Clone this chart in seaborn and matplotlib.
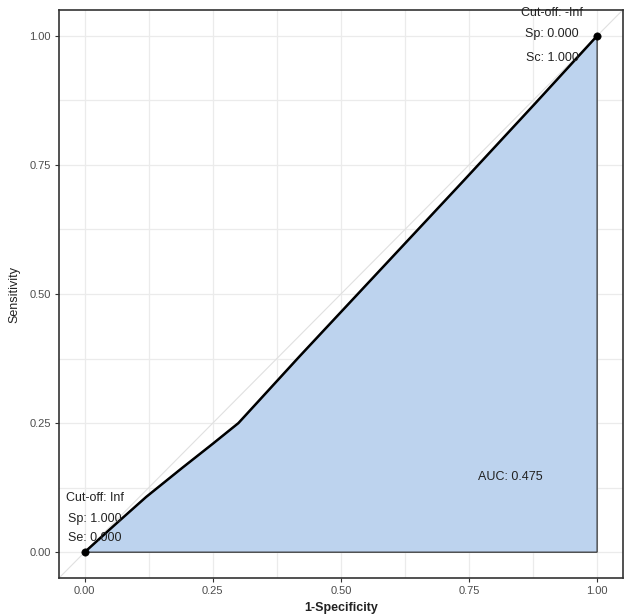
import matplotlib
matplotlib.use("Agg")
import matplotlib.pyplot as plt
import seaborn as sns
import pandas as pd
import numpy as np

# Data
fpr = [0.0, 0.06, 0.12, 0.19, 0.25, 0.30, 0.42, 0.58, 0.74, 0.88, 1.0]
tpr = [0.0, 0.054, 0.107, 0.163, 0.21, 0.25, 0.38, 0.55, 0.72, 0.87, 1.0]
end_fpr = [0.0, 1.0]
end_tpr = [0.0, 1.0]
ticks = [0.0, 0.25, 0.5, 0.75, 1.0]
tick_labels = ["0.00", "0.25", "0.50", "0.75", "1.00"]
auc_text = "AUC: 0.475"
top_labels = ["Cut-off: -Inf", "Sp: 0.000", "Sc: 1.000"]
bottom_labels = ["Cut-off: Inf", "Sp: 1.000", "Se: 0.000"]

sns.set_theme(style="white")
plt.rcParams['font.family'] = ['Liberation Sans', 'DejaVu Sans']

df = pd.DataFrame({"fpr": fpr, "tpr": tpr})
ends = pd.DataFrame({"fpr": end_fpr, "tpr": end_tpr})

fig = plt.figure(figsize=(6.24, 6.14), dpi=100)
ax = fig.add_axes([0.0946, 0.0586, 0.9034, 0.9251])

# grid
for v in np.arange(0, 1.01, 0.125):
    ax.axvline(v, color="#EBEBEB", lw=0.9, zorder=0)
    ax.axhline(v, color="#EBEBEB", lw=0.9, zorder=0)

# diagonal
ax.plot([-0.05, 1.05], [-0.05, 1.05], color="#E0E0E0", lw=0.8, zorder=1)

# filled area
xs = fpr + [1.0, 0.0]
ys = tpr + [0.0, 0.0]
ax.fill(xs, ys, facecolor="#BDD3EE", edgecolor="#333333", lw=0.9, zorder=2)

sns.lineplot(data=df, x="fpr", y="tpr", sort=False, color="black", lw=1.8, ax=ax, zorder=3)
sns.scatterplot(data=ends, x="fpr", y="tpr", color="black", s=28, ax=ax, zorder=4, edgecolor="black")

ax.set_xlim(-0.05, 1.05)
ax.set_ylim(-0.05, 1.05)
ax.set_xticks(ticks)
ax.set_xticklabels(tick_labels)
ax.set_yticks(ticks)
ax.set_yticklabels(tick_labels)
ax.tick_params(axis="both", which="major", length=3, width=0.8, color="#333333",
               labelsize=8, labelcolor="#4D4D4D", pad=3, bottom=True, left=True)
for s in ax.spines.values():
    s.set_color("#333333")
    s.set_linewidth(1.2)

ax.set_xlabel("1-Specificity", fontsize=9, fontweight="bold", color="#222222", labelpad=4)
ax.set_ylabel("Sensitivity", fontsize=9, color="#222222", labelpad=6)

# annotations
ty = [1.045, 1.003, 0.958]
for t, y in zip(top_labels, ty):
    ax.text(0.912, y, t, ha="center", va="center", fontsize=9, color="#222222", zorder=5)
by = [0.104, 0.065, 0.027]
for t, y in zip(bottom_labels, by):
    ax.text(0.02, y, t, ha="center", va="center", fontsize=9, color="#222222", zorder=5)
ax.text(0.83, 0.145, auc_text, ha="center", va="center", fontsize=9, color="#222222", zorder=5)

fig.savefig("out.png", dpi=100)
